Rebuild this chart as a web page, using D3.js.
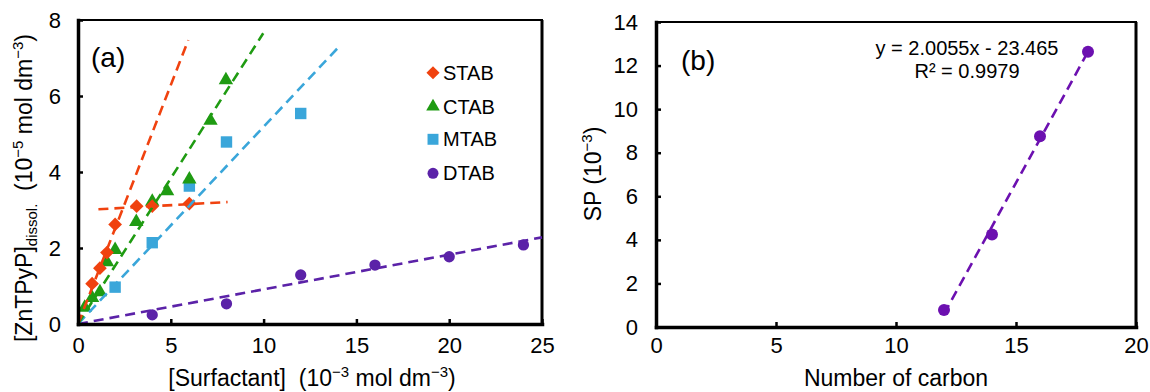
<!DOCTYPE html>
<html><head><meta charset="utf-8">
<script src="https://cdn.jsdelivr.net/npm/d3@7"></script>
<style>
body{margin:0;background:#fff;}
svg{display:block;font-family:"Liberation Sans",Arial,sans-serif;}
</style></head>
<body><svg id="c" width="1150" height="392"></svg>
<script>
// ---------- Panel (a) data ----------
const stabX = [0.76, 1.18, 1.56, 2.0, 3.16, 4.0, 6.0];
const stabY = [1.06, 1.47, 1.88, 2.62, 3.10, 3.10, 3.17];
const ctabX = [0.36, 0.76, 1.18, 1.56, 2.0, 3.14, 4.0, 4.8, 6.0, 7.14, 7.97];
const ctabY = [0.43, 0.69, 0.84, 1.63, 1.95, 2.69, 3.22, 3.50, 3.81, 5.35, 6.42];
const mtabX = [2, 4, 6, 8, 12];
const mtabY = [0.97, 2.14, 3.63, 4.79, 5.54];
const dtabX = [4, 8, 12, 16, 20, 24];
const dtabY = [0.24, 0.53, 1.29, 1.55, 1.77, 2.08];
// trend lines: [x0, y0, x1, y1]
const stabFitSteep = [0, 0, 5.94, 7.47];
const stabFitFlat  = [1.1, 3.02, 8.06, 3.21];
const ctabFit = [0, 0, 9.98, 7.65];
const mtabFit = [0, 0, 13.97, 7.25];
const dtabFit = [0, 0, 25, 2.28];
const xTicksA = [0, 5, 10, 15, 20, 25];
const yTicksA = [0, 2, 4, 6, 8];
const legendNames = ["STAB", "CTAB", "MTAB", "DTAB"];

// ---------- Panel (b) data ----------
const carbonX = [12, 14, 16, 18];
const spY = [0.78, 4.25, 8.76, 12.63];
const fitSlope = 2.0055, fitIntercept = -23.465;
const fitRange = [12, 18];
const xTicksB = [0, 5, 10, 15, 20];
const yTicksB = [0, 2, 4, 6, 8, 10, 12, 14];

const RED = "#f0420f", GREEN = "#1f9b12", BLUE = "#3aa6da", PURPLE = "#5b22a8", PURPLE_B = "#6c10b0";

const svg = d3.select("#c");
const xA = d3.scaleLinear([0, 25], [78, 542]);
const yA = d3.scaleLinear([0, 8], [324, 20]);
const xB = d3.scaleLinear([0, 20], [656, 1136]);
const yB = d3.scaleLinear([0, 14], [327, 22]);

function frame(x, y) {
  const [x0, x1] = x.range(), [y0, y1] = y.range();
  svg.append("rect").attr("x", x0).attr("y", y1).attr("width", x1 - x0).attr("height", y0 - y1)
    .attr("fill", "none").attr("stroke", "#000").attr("stroke-width", 2);
  svg.append("line").attr("x1", x1).attr("x2", x1).attr("y1", y1).attr("y2", y0).attr("stroke", "#000").attr("stroke-width", 3);
}
function axes(x, y, xt, yt, padX, padY) {
  const [x0] = x.range(), [y0] = y.range();
  const gx = svg.append("g").attr("transform", `translate(0,${y0})`)
    .call(d3.axisBottom(x).tickValues(xt).tickFormat(d3.format("d")).tickSizeInner(-5).tickSizeOuter(0).tickPadding(padX));
  const gy = svg.append("g").attr("transform", `translate(${x0},0)`)
    .call(d3.axisLeft(y).tickValues(yt).tickFormat(d3.format("d")).tickSizeInner(-5).tickSizeOuter(0).tickPadding(padY));
  [gx, gy].forEach(g => {
    g.select(".domain").attr("stroke", "#000").attr("stroke-width", 3.5).attr("stroke-linecap", "square");
    g.selectAll(".tick line").attr("stroke", "#000").attr("stroke-width", 2.5);
    g.selectAll(".tick text").attr("font-size", 22).attr("fill", "#000")
      .attr("font-family", '"Liberation Sans",Arial,sans-serif');
  });
}

// ---- Panel (a) ----
frame(xA, yA);
const gA = svg.append("g");
const sym = (type, size) => d3.symbol().type(type).size(size)();
function markers(xs, ys, type, size, color, g, x, y) {
  g.selectAll(null).data(xs).join("path")
    .attr("d", sym(type, size))
    .attr("transform", (d, i) => `translate(${x(d)},${y(ys[i])})`)
    .attr("fill", color);
}
markers(dtabX, dtabY, d3.symbolCircle, 100, PURPLE, gA, xA, yA);
markers(mtabX, mtabY, d3.symbolSquare, 130, BLUE, gA, xA, yA);
markers(ctabX, ctabY, d3.symbolTriangle, 90, GREEN, gA, xA, yA);
markers(stabX, stabY, d3.symbolDiamond2, 120, RED, gA, xA, yA);

function fit(f, color, x, y, w) {
  svg.append("line").attr("x1", x(f[0])).attr("y1", y(f[1])).attr("x2", x(f[2])).attr("y2", y(f[3]))
    .attr("stroke", color).attr("stroke-width", w || 2.6).attr("stroke-dasharray", "10,6");
}
fit(dtabFit, PURPLE, xA, yA);
fit(mtabFit, BLUE, xA, yA);
fit(ctabFit, GREEN, xA, yA);
fit(stabFitSteep, RED, xA, yA);
fit(stabFitFlat, RED, xA, yA);

axes(xA, yA, xTicksA, yTicksA, 13, 17);

// legend
const legTypes = [[d3.symbolDiamond2, 110, RED], [d3.symbolTriangle, 80, GREEN], [d3.symbolSquare, 120, BLUE], [d3.symbolCircle, 95, PURPLE]];
const legY = [72.7, 106.7, 139.3, 173.3];
legendNames.forEach((n, i) => {
  svg.append("path").attr("d", sym(legTypes[i][0], legTypes[i][1]))
    .attr("transform", `translate(433,${legY[i]})`).attr("fill", legTypes[i][2]);
  svg.append("text").attr("x", 443).attr("y", legY[i] + 7).attr("font-size", 20).text(n);
});
svg.append("text").attr("x", 91).attr("y", 67).attr("font-size", 28).text("(a)");

// axis labels (a)
const xl = svg.append("text").attr("x", 312).attr("y", 386).attr("text-anchor", "middle").attr("font-size", 23);
xl.append("tspan").text("[Surfactant]\u00a0\u00a0(10");
xl.append("tspan").attr("font-size", 15).attr("dy", -9).text("\u22123");
xl.append("tspan").attr("dy", 9).text(" mol dm");
xl.append("tspan").attr("font-size", 15).attr("dy", -9).text("\u22123");
xl.append("tspan").attr("dy", 9).text(")");

const yl = svg.append("text").attr("transform", "translate(32,188) rotate(-90)").attr("text-anchor", "middle").attr("font-size", 23);
yl.append("tspan").text("[ZnTPyP]");
yl.append("tspan").attr("font-size", 15).attr("dy", 5).text("dissol.");
yl.append("tspan").attr("dy", -5).text("\u00a0\u00a0(10");
yl.append("tspan").attr("font-size", 15).attr("dy", -9).text("\u22125");
yl.append("tspan").attr("dy", 9).text(" mol dm");
yl.append("tspan").attr("font-size", 15).attr("dy", -9).text("\u22123");
yl.append("tspan").attr("dy", 9).text(")");

// ---- Panel (b) ----
frame(xB, yB);
svg.append("line")
  .attr("x1", xB(fitRange[0])).attr("y1", yB(fitSlope * fitRange[0] + fitIntercept))
  .attr("x2", xB(fitRange[1])).attr("y2", yB(fitSlope * fitRange[1] + fitIntercept))
  .attr("stroke", PURPLE_B).attr("stroke-width", 2.6).attr("stroke-dasharray", "10,6");
svg.selectAll(null).data(carbonX).join("circle")
  .attr("cx", d => xB(d)).attr("cy", (d, i) => yB(spY[i])).attr("r", 6).attr("fill", PURPLE_B);
axes(xB, yB, xTicksB, yTicksB, 10, 18);
svg.append("text").attr("x", 681).attr("y", 70).attr("font-size", 28).text("(b)");
svg.append("text").attr("x", 967).attr("y", 55).attr("text-anchor", "middle").attr("font-size", 20)
  .text(`y = ${fitSlope}x - ${Math.abs(fitIntercept)}`);
svg.append("text").attr("x", 967).attr("y", 78).attr("text-anchor", "middle").attr("font-size", 20)
  .text("R\u00b2 = 0.9979");
svg.append("text").attr("x", 896).attr("y", 386).attr("text-anchor", "middle").attr("font-size", 23).text("Number of carbon");
const ylb = svg.append("text").attr("transform", "translate(601,174) rotate(-90)").attr("text-anchor", "middle").attr("font-size", 23);
ylb.append("tspan").text("SP (10");
ylb.append("tspan").attr("font-size", 15).attr("dy", -9).text("\u22123");
ylb.append("tspan").attr("dy", 9).text(")");
</script></body></html>
